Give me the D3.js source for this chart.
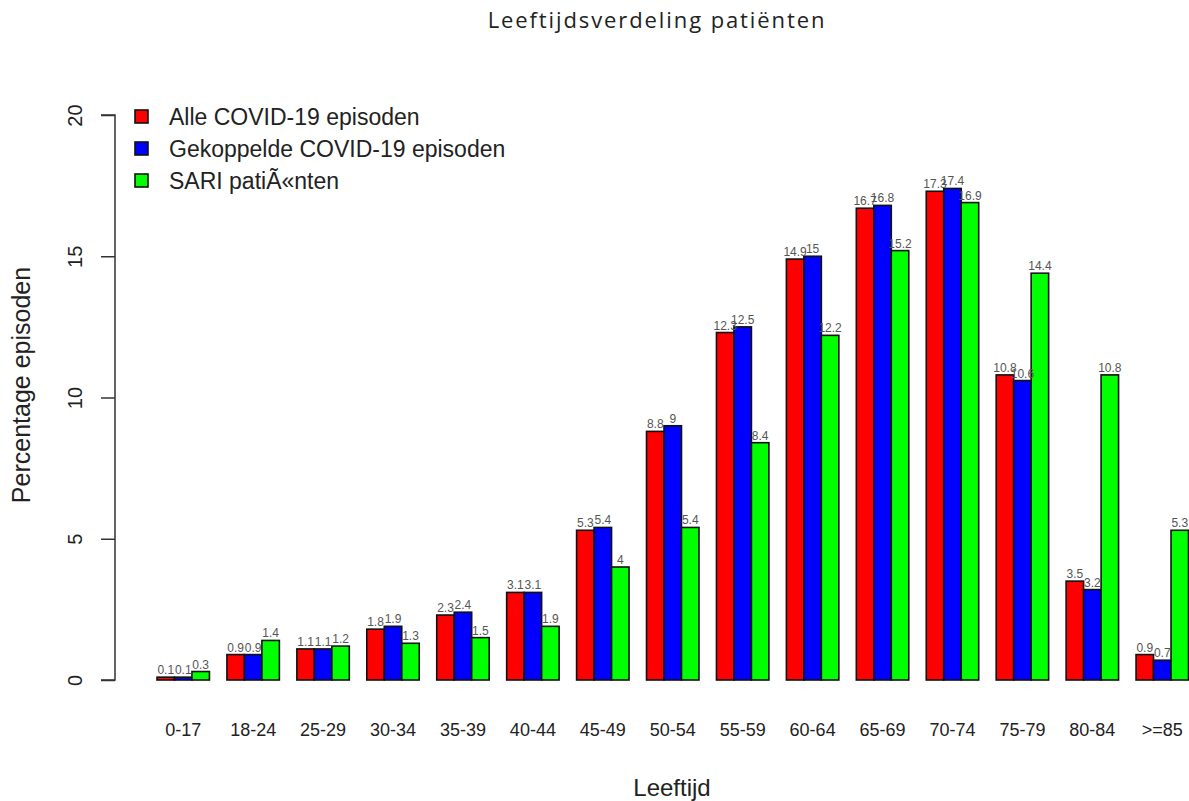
<!DOCTYPE html>
<html><head><meta charset="utf-8">
<script src="https://cdn.jsdelivr.net/npm/d3@7"></script>
<style>body{margin:0;background:#fff}svg{display:block}text{font-family:"Liberation Sans",Arial,sans-serif;fill:#222}</style>
</head><body><svg id="c" width="1189" height="801"></svg>
<script>
const categories = ["0-17","18-24","25-29","30-34","35-39","40-44","45-49","50-54","55-59","60-64","65-69","70-74","75-79","80-84",">=85"];
const seriesNames = ["Alle COVID-19 episoden","Gekoppelde COVID-19 episoden","SARI patiÃ«nten"];
const alle = [0.1,0.9,1.1,1.8,2.3,3.1,5.3,8.8,12.3,14.9,16.7,17.3,10.8,3.5,0.9];
const gekoppeld = [0.1,0.9,1.1,1.9,2.4,3.1,5.4,9,12.5,15,16.8,17.4,10.6,3.2,0.7];
const sari = [0.3,1.4,1.2,1.3,1.5,1.9,4,5.4,8.4,12.2,15.2,16.9,14.4,10.8,5.3];
const yTicks = [0,5,10,15,20];
const colors = ["#ff0000","#0000ff","#00ff00"];
const series = [alle, gekoppeld, sari];

const svg = d3.select("#c");
const x0 = d3.scaleBand().domain(categories).range([157, 1188.5]).paddingInner(0.25).paddingOuter(0);
const x1 = d3.scaleBand().domain(d3.range(3)).range([0, x0.bandwidth()]);
const y = d3.scaleLinear().domain([0,20]).range([680,115]);

// title
svg.append("text").attr("x",657).attr("y",28).attr("text-anchor","middle")
  .style("font-family","'Open Sans',sans-serif").style("font-size","22px").style("letter-spacing","1.9px").text("Leeftijdsverdeling patiënten");

// bars
const g = svg.append("g");
categories.forEach((c,i)=>{
  series.forEach((s,j)=>{
    const bx = x0(c)+x1(j);
    g.append("rect").attr("x",bx).attr("y",y(s[i])).attr("width",x1.bandwidth()).attr("height",y(0)-y(s[i]))
      .attr("fill",colors[j]).attr("stroke","#111").attr("stroke-width",1.6);
  });
});
categories.forEach((c,i)=>{
  series.forEach((s,j)=>{
    const bx = x0(c)+x1(j);
    g.append("text").attr("x",bx+x1.bandwidth()/2).attr("y",y(s[i])-3).attr("text-anchor","middle")
      .style("font-size","12px").style("fill","#555").text(s[i]);
  });
});

// y axis
const ya = svg.append("g").attr("transform","translate(115,0)")
  .call(d3.axisLeft(y).tickValues(yTicks).tickSize(14).tickFormat(d3.format("d")));
ya.select(".domain").attr("stroke","#333").attr("stroke-width",1.5).attr("d","M-14,"+y(20)+"H0V"+y(0)+"H-14");
ya.selectAll(".tick line").attr("stroke","#333").attr("stroke-width",1.5);
ya.selectAll(".tick text").attr("x",null).attr("dy","0.35em")
  .attr("text-anchor","middle").style("font-size","20px")
  .attr("transform","translate(-40,0) rotate(-90)");

// x labels
const xa = svg.append("g").attr("transform","translate(0,680)")
  .call(d3.axisBottom(x0).tickSize(0).tickPadding(43));
xa.select(".domain").remove();
xa.selectAll(".tick text").style("font-size","18px");

svg.append("text").attr("x",672).attr("y",796).attr("text-anchor","middle").style("font-size","24px").text("Leeftijd");
svg.append("text").attr("transform","translate(30,385) rotate(-90)").attr("text-anchor","middle").style("font-size","25px").text("Percentage episoden");

// legend
const lg = svg.append("g");
seriesNames.forEach((n,j)=>{
  lg.append("rect").attr("x",135).attr("y",110+j*32).attr("width",13).attr("height",13).attr("fill",colors[j]).attr("stroke","#111").attr("stroke-width",1.6);
  lg.append("text").attr("x",169).attr("y",117+j*32).attr("dy","0.35em").style("font-size","23px").text(n);
});
</script></body></html>
